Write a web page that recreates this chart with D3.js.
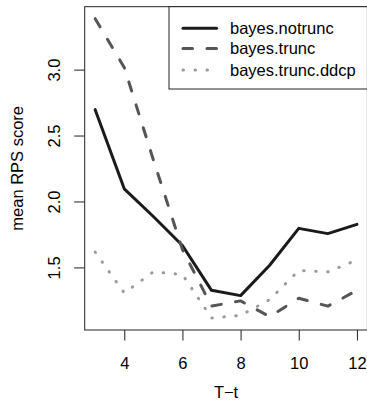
<!DOCTYPE html>
<meta charset="utf-8">
<style>
body { margin: 0; background: #fff; }
text { font-family: "Liberation Sans", Arial, Helvetica, sans-serif; }
</style>
<script src="https://cdn.jsdelivr.net/npm/d3@7"></script>
<body>
</body>
<script>

// horizon T-t and the three mean RPS curves
var horizon  = [3, 4, 5, 6, 7, 8, 9, 10, 11, 12];
var notrunc  = [2.70, 2.10, 1.89, 1.67, 1.33, 1.29, 1.52, 1.80, 1.76, 1.83];
var trunc    = [3.39, 3.02, 2.32, 1.64, 1.21, 1.25, 1.13, 1.27, 1.21, 1.33];
var ddcp     = [1.62, 1.31, 1.47, 1.45, 1.12, 1.14, 1.26, 1.48, 1.47, 1.56];

var xTicks = [4, 6, 8, 10, 12];
var yTicks = [1.5, 2.0, 2.5, 3.0];

var series = [
  { name: "bayes.notrunc",    values: notrunc, color: "#1a1a1a", dash: null,     cap: "round", lw: 3 },
  { name: "bayes.trunc",      values: trunc,   color: "#555555", dash: "9.5,14.5",  cap: "round", lw: 3 },
  { name: "bayes.trunc.ddcp", values: ddcp,    color: "#9a9a9a", dash: "0.5,11.5", cap: "round", lw: 3 }
];

const width = 367, height = 408;
const fs = 16.5;
var plot = { left: 84.7, right: 367.4, top: 6.7, bottom: 330 };

// R style 4% padding around the data range
var xs = d3.scaleLinear().domain([3 - 0.36, 12 + 0.36]).range([plot.left, plot.right]);
var yMin = 1.12, yMax = 3.39, yPad = (yMax - yMin) * 0.04;
var ys = d3.scaleLinear().domain([yMin - yPad, yMax + yPad]).range([plot.bottom, plot.top]);

var svg = d3.select("body").append("svg")
  .attr("width", width)
  .attr("height", height);

var line = d3.line()
  .x((d, i) => xs(horizon[i]))
  .y(d => ys(d));

series.forEach(function(s) {
  svg.append("path")
    .attr("d", line(s.values))
    .attr("fill", "none")
    .attr("stroke", s.color)
    .attr("stroke-width", s.lw)
    .attr("stroke-dasharray", s.dash)
    .attr("stroke-linecap", s.cap)
    .attr("stroke-linejoin", "round");
});

// frame
svg.append("rect")
  .attr("x", plot.left).attr("y", plot.top)
  .attr("width", plot.right - plot.left).attr("height", plot.bottom - plot.top)
  .attr("fill", "none").attr("stroke", "#222").attr("stroke-width", 1);

// x axis
var xAxis = d3.axisBottom(xs).tickValues(xTicks).tickSize(10.5).tickPadding(17);
var gx = svg.append("g").attr("transform", `translate(0,${plot.bottom})`).call(xAxis);
gx.select(".domain").remove();
gx.selectAll("line").attr("stroke", "#222");
gx.selectAll("text").attr("font-size", fs).attr("fill", "#000")
  .attr("font-family", "Liberation Sans, Arial, sans-serif");

// y axis, labels rotated like R's las=0
var gy = svg.append("g");
gy.selectAll("line").data(yTicks).enter().append("line")
  .attr("x1", plot.left - 10.5).attr("x2", plot.left)
  .attr("y1", d => ys(d)).attr("y2", d => ys(d))
  .attr("stroke", "#222");
gy.selectAll("text").data(yTicks).enter().append("text")
  .attr("transform", d => `translate(60,${ys(d)}) rotate(-90)`)
  .attr("text-anchor", "middle")
  .attr("font-size", fs)
  .text(d => d.toFixed(1));

// axis titles
svg.append("text")
  .attr("x", (plot.left + plot.right) / 2).attr("y", 398)
  .attr("text-anchor", "middle").attr("font-size", fs)
  .text("T\u2212t");

svg.append("text")
  .attr("transform", `translate(23,${(plot.top + plot.bottom) / 2}) rotate(-90)`)
  .attr("text-anchor", "middle").attr("font-size", fs)
  .text("mean RPS score");

// legend
var leg = { x: 169, y: plot.top, w: plot.right - 169, h: 89 - plot.top };
svg.append("rect")
  .attr("x", leg.x).attr("y", leg.y)
  .attr("width", leg.w).attr("height", leg.h)
  .attr("fill", "#fff").attr("stroke", "#222").attr("stroke-width", 1);

var legRows = [28.3, 48.5, 70];
series.forEach(function(s, i) {
  svg.append("line")
    .attr("x1", 183).attr("x2", 216.5)
    .attr("y1", legRows[i]).attr("y2", legRows[i])
    .attr("stroke", s.color)
    .attr("stroke-width", s.lw)
    .attr("stroke-dasharray", s.dash)
    .attr("stroke-linecap", s.cap);
  svg.append("text")
    .attr("x", 230).attr("y", legRows[i] + 5.7)
    .attr("font-size", fs)
    .text(s.name);
});

</script>
